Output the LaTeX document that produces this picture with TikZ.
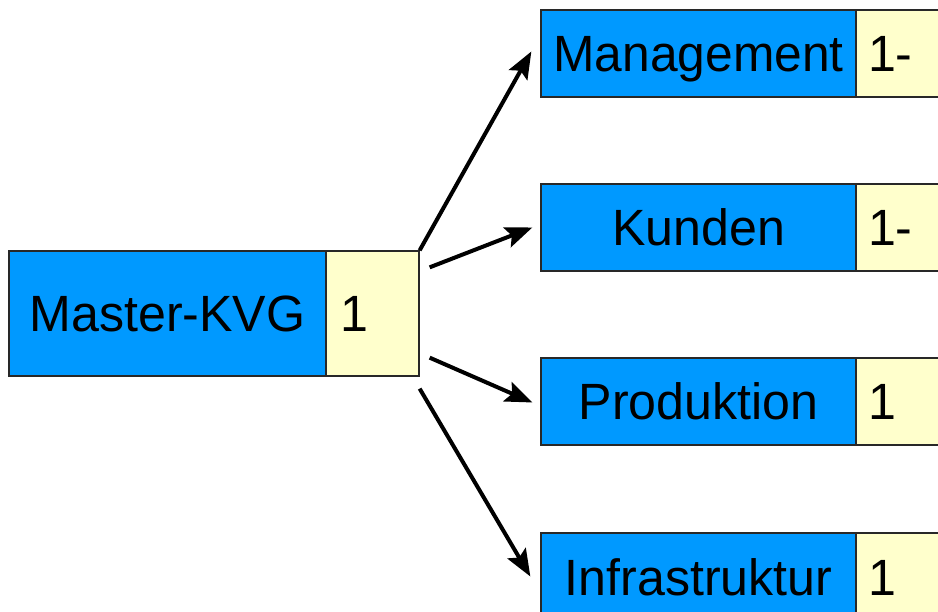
\documentclass[tikz,border=0pt]{standalone}
\usepackage{fontspec}
\usepackage{graphicx}
\setmainfont{Liberation Sans}
\usetikzlibrary{arrows.meta,calc}
\definecolor{boxblue}{RGB}{0,153,255}
\definecolor{boxyellow}{RGB}{255,255,204}
\definecolor{boxline}{RGB}{40,40,40}
\newcommand{\nx}[1]{\scalebox{0.983}[1]{#1}}
\begin{document}
\begin{tikzpicture}[x=1pt,y=-1pt,
  every node/.style={font=\fontsize{51}{51}\selectfont, text height=37pt, text depth=0pt, inner sep=0pt},
  bluebox/.style={draw=boxline, line width=1.3pt, fill=boxblue, minimum width=315pt, minimum height=87pt, align=center},
  yellowbox/.style={draw=boxline, line width=1.3pt, fill=boxyellow, minimum height=87pt, text width=80pt, inner xsep=12pt, align=left},
  conn/.style={line width=4pt, -{Stealth[length=27pt,width=21pt,inset=5pt]}}
]
\useasboundingbox (0,0) rectangle (938,612);
\clip (0,0) rectangle (938,612);
\fill[white] (0,0) rectangle (938,612);
% master
\node[bluebox, minimum width=317pt, minimum height=125pt] (m) at (167.5,313.5) {\nx{Master-KVG}};
\node[yellowbox, minimum height=125pt, text width=65pt, inner xsep=14pt] (m1) at (372.5,313.5) {\nx{1}};
% right column
\node[bluebox] (a) at (698.5,53.5) {\scalebox{0.975}[1]{Management}};
\node[yellowbox] (a1) at (908,53.5) {\nx{1-}};
\node[bluebox] (b) at (698.5,227.5) {\nx{Kunden}};
\node[yellowbox] (b1) at (908,227.5) {\nx{1-}};
\node[bluebox] (c) at (698.5,401.5) {\nx{Produktion}};
\node[yellowbox] (c1) at (908,401.5) {\nx{1}};
\node[bluebox] (d) at (698.5,576.5) {\nx{Infrastruktur}};
\node[yellowbox] (d1) at (908,576.5) {\nx{1}};
% connectors
\draw[conn] (m1.north east) -- ($(a.west)+(-9,-2)$);
\draw[conn] ($(m1.north east)+(10,17)$) -- ($(b.west)+(-8,0)$);
\draw[conn] ($(m1.south east)+(10,-19)$) -- ($(c.west)+(-8,1)$);
\draw[conn] ($(m1.south east)+(0,12)$) -- ($(d.west)+(-10,0)$);
\end{tikzpicture}
\end{document}
